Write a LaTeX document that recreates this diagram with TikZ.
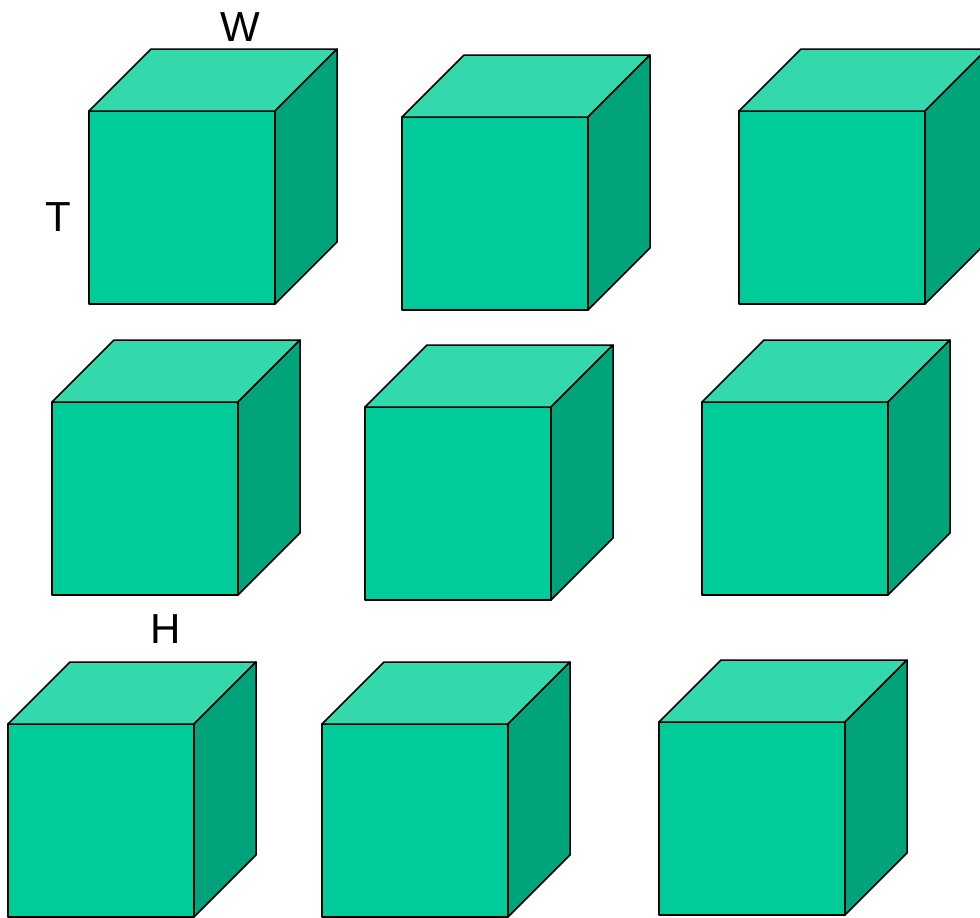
\documentclass[tikz,border=0pt]{standalone}
\usepackage{fontspec}
\setmainfont{Liberation Sans}
\definecolor{frontc}{RGB}{0,204,153}
\definecolor{topc}{RGB}{51,217,173}
\definecolor{sidec}{RGB}{0,163,122}
\tikzset{
  face/.style={draw=black, line width=1.5pt, line join=round},
  lbl/.style={inner sep=0pt, font=\fontsize{42}{50}\selectfont},
  cube/.pic={
    \path[face, fill=frontc] (0,0) rectangle (186,193);
    \path[face, fill=topc] (0,0) -- (62,-62) -- (248,-62) -- (186,0) -- cycle;
    \path[face, fill=sidec] (186,0) -- (248,-62) -- (248,131) -- (186,193) -- cycle;
  }
}
\begin{document}
\begin{tikzpicture}[x=1pt,y=-1pt]
\useasboundingbox (0,0) rectangle (980,918);
\clip (0,0) rectangle (980,918);
\pic at (89,111) {cube};
\pic at (402,117) {cube};
\pic at (739,111) {cube};
\pic at (52,402) {cube};
\pic at (365,407) {cube};
\pic at (702,402) {cube};
\pic at (8,724) {cube};
\pic at (322,724) {cube};
\pic at (659,722) {cube};
\node[lbl] (W) at (240,27) {W};
\node[lbl] (T) at (58,217) {T};
\node[lbl] (H) at (166,629) {H};
\end{tikzpicture}
\end{document}
